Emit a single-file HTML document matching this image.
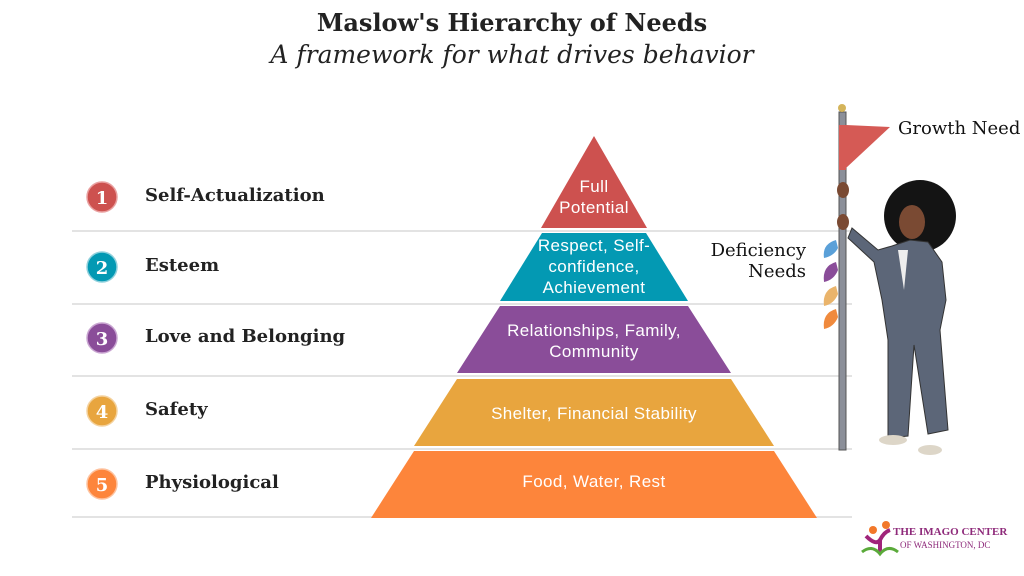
<!DOCTYPE html>
<html><head><meta charset="utf-8"><style>
body{margin:0;width:1024px;height:576px;background:#fff;overflow:hidden;position:relative;font-family:"DejaVu Serif",serif}
.t{position:absolute;white-space:nowrap}
</style></head><body>
<svg width="1024" height="576" style="position:absolute;left:0;top:0">
<g stroke="#e3e3e3" stroke-width="2">
<line x1="72" y1="231" x2="852" y2="231"/><line x1="72" y1="304" x2="852" y2="304"/>
<line x1="72" y1="376" x2="852" y2="376"/><line x1="72" y1="449" x2="852" y2="449"/>
<line x1="72" y1="517" x2="852" y2="517"/></g>
<polygon points="594,136 647,228 541,228" fill="#cd514f"/>
<polygon points="542,233 646,233 688,301 500,301" fill="#0399b3"/>
<polygon points="500,306 688,306 731,373 457,373" fill="#8a4d99"/>
<polygon points="457,379 731,379 774,446 414,446" fill="#e8a53e"/>
<polygon points="414,451 774,451 817,518 371,518" fill="#fd853b"/>
<g font-family="Liberation Sans,sans-serif" font-size="17" letter-spacing="0.4" fill="#fff" text-anchor="middle">
<text x="594" y="192">Full</text><text x="594" y="213">Potential</text>
<text x="594" y="251">Respect, Self-</text><text x="594" y="272">confidence,</text><text x="594" y="293">Achievement</text>
<text x="594" y="336">Relationships, Family,</text><text x="594" y="357">Community</text>
<text x="594" y="419">Shelter, Financial Stability</text>
<text x="594" y="487">Food, Water, Rest</text></g>
<g font-family="DejaVu Serif,serif" font-weight="bold" font-size="18" fill="#fff" text-anchor="middle">
<circle cx="102" cy="197" r="15" fill="#cd514f" stroke="#e9a0a0" stroke-width="1.5"/><text x="102" y="204">1</text>
<circle cx="102" cy="267" r="15" fill="#0399b3" stroke="#8fd0dc" stroke-width="1.5"/><text x="102" y="274">2</text>
<circle cx="102" cy="338" r="15" fill="#8a4d99" stroke="#c9a5d1" stroke-width="1.5"/><text x="102" y="345">3</text>
<circle cx="102" cy="411" r="15" fill="#e8a53e" stroke="#f4d29e" stroke-width="1.5"/><text x="102" y="418">4</text>
<circle cx="102" cy="484" r="15" fill="#fd853b" stroke="#fec29e" stroke-width="1.5"/><text x="102" y="491">5</text></g>
<!-- pole -->
<rect x="839" y="112" width="7" height="338" fill="#8b8f99" stroke="#555" stroke-width="1"/>
<circle cx="842" cy="108" r="4" fill="#d4b45a"/>
<rect x="839" y="125" width="7" height="45" fill="#d55a55"/>
<polygon points="846,125 890,127 846,168" fill="#d55a55"/>
<path d="M836,240 q-14,4 -12,18 q10,-2 14,-10z" fill="#5aa0d8"/>
<path d="M836,262 q-14,4 -12,20 q10,-2 14,-12z" fill="#8a4d99"/>
<path d="M836,286 q-14,4 -12,20 q10,-2 14,-12z" fill="#eab46b"/>
<path d="M836,309 q-14,4 -12,20 q10,-2 14,-12z" fill="#f08a3d"/>
<!-- person -->
<circle cx="920" cy="216" r="36" fill="#141414"/>
<ellipse cx="912" cy="222" rx="13" ry="17" fill="#7a4a33"/>
<path d="M852,228 L878,250 L892,246 L910,240 L928,242 L942,262 L946,300 L940,330 L948,430 L928,434 L914,345 L908,436 L888,438 L888,340 L882,300 L874,262 L848,238z" fill="#5c6678" stroke="#333" stroke-width="1"/>
<path d="M898,250 L904,290 L908,250z" fill="#eee"/>
<ellipse cx="843" cy="190" rx="6" ry="8" fill="#7a4a33"/>
<ellipse cx="843" cy="222" rx="6" ry="8" fill="#7a4a33"/>
<ellipse cx="893" cy="440" rx="14" ry="5" fill="#ddd6c8"/>
<ellipse cx="930" cy="450" rx="12" ry="5" fill="#ddd6c8"/>
<!-- logo -->
<circle cx="873" cy="530" r="4" fill="#f2782a"/><circle cx="886" cy="525" r="4" fill="#f2782a"/>
<path d="M866,536 q10,10 14,4 q4,-8 10,-10 M880,540 v12" stroke="#a0247a" stroke-width="4" fill="none"/>
<path d="M862,552 q10,-8 18,2 q8,-10 18,-2" stroke="#5aaa3a" stroke-width="3" fill="none"/>
</svg>
<div class="t" style="left:0;width:1024px;text-align:center;top:8px;font-size:24px;font-weight:bold;color:#222">Maslow's Hierarchy of Needs</div>
<div class="t" style="left:0;width:1024px;text-align:center;top:40px;font-size:25px;font-style:italic;color:#222">A framework for what drives behavior</div>
<div class="t" style="left:145px;top:185px;font-size:18px;font-weight:bold;color:#222">Self-Actualization</div>
<div class="t" style="left:145px;top:255px;font-size:18px;font-weight:bold;color:#222">Esteem</div>
<div class="t" style="left:145px;top:326px;font-size:18px;font-weight:bold;color:#222">Love and Belonging</div>
<div class="t" style="left:145px;top:399px;font-size:18px;font-weight:bold;color:#222">Safety</div>
<div class="t" style="left:145px;top:472px;font-size:18px;font-weight:bold;color:#222">Physiological</div>
<div class="t" style="left:898px;top:118px;font-size:18px;color:#111">Growth Need</div>
<div class="t" style="right:218px;top:240px;font-size:18px;color:#111;text-align:right;line-height:21px">Deficiency<br>Needs</div>
<div class="t" style="left:893px;top:526px;font-size:11px;color:#8e2a7a;font-weight:bold;font-family:'Liberation Serif',serif">THE IMAGO CENTER</div>
<div class="t" style="left:900px;top:540px;font-size:9px;color:#8e2a7a;font-family:'Liberation Serif',serif">OF WASHINGTON, DC</div>
</body></html>
